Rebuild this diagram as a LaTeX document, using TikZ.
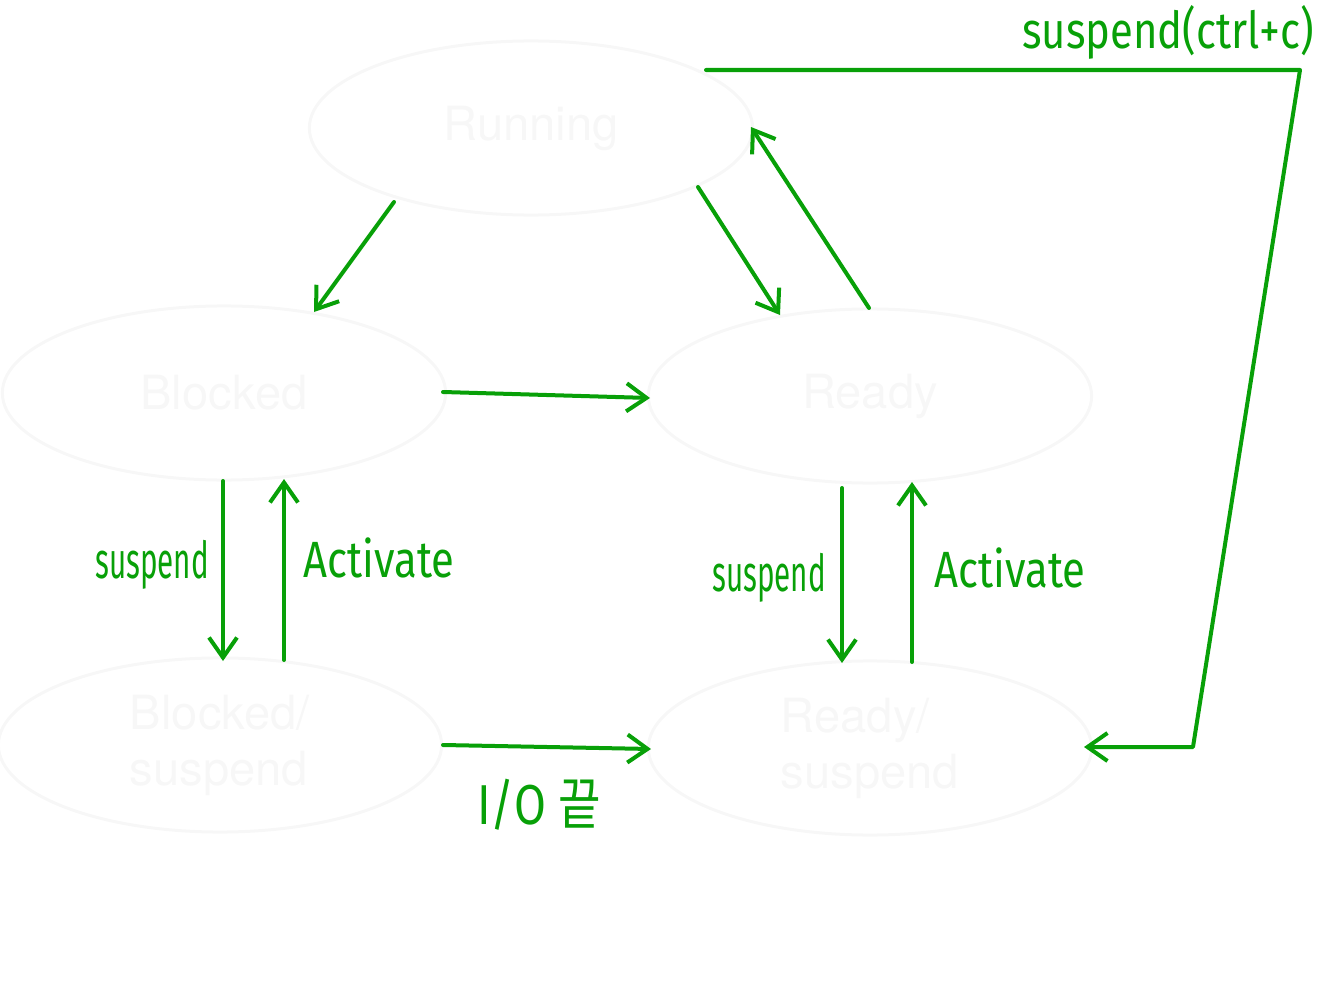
\documentclass[tikz,border=0pt]{standalone}
\usepackage{fontspec}
\usetikzlibrary{shapes.geometric,arrows.meta}
\newfontfamily\helv{TeX Gyre Heros}
\newfontfamily\hand{Fira Sans}
\newfontfamily\krfont{Noto Sans CJK KR}
\definecolor{pen}{RGB}{8,160,8}
\definecolor{faint}{RGB}{247,247,247}
\tikzset{
  state/.style={ellipse,draw=faint,line width=0.03cm,text=faint,inner sep=0pt,
    minimum width=4.43cm,minimum height=1.74cm,
    font=\helv\fontsize{13.4}{15.9}\selectfont,align=left},
  penline/.style={draw=pen,line width=0.04cm,line cap=round,line join=round},
  penarrow/.style={penline,-{Straight Barb[length=0.2cm,width=0.28cm,line width=0.04cm]}},
  note/.style={text=pen,font=\hand\fontsize{14.5}{16}\selectfont,inner sep=0pt},
  widenote/.style={note,xscale=0.82},
  narrownote/.style={note,xscale=0.58}
}
\begin{document}
\begin{tikzpicture}[x=0.01cm,y=-0.01cm]
\useasboundingbox (0,0) rectangle (1317,1000);
\node[state] (run) at (531,128) {Running};
\node[state] (blk) at (224,393) {Blocked};
\node[state] (rdy) at (870,396) {Ready};
\node[state] (bs)  at (220,745) {Blocked/\\suspend};
\node[state] (rs)  at (870,748) {Ready/\\suspend};

% endpoints
\coordinate (a1s) at (394,202); \coordinate (a1e) at (314,312);
\coordinate (a2s) at (698,187); \coordinate (a2e) at (780,315);
\coordinate (a3s) at (869,308); \coordinate (a3e) at (751,127);
\coordinate (a4s) at (443,392); \coordinate (a4e) at (650,398);
\coordinate (a5s) at (223,481); \coordinate (a5e) at (223,661);
\coordinate (a6s) at (284,660); \coordinate (a6e) at (284,479);
\coordinate (a7s) at (842,488); \coordinate (a7e) at (842,663);
\coordinate (a8s) at (912,662); \coordinate (a8e) at (912,482);
\coordinate (a9s) at (443,745); \coordinate (a9e) at (651,749);
\coordinate (r0) at (706,70); \coordinate (r1) at (1300,70);
\coordinate (r2) at (1193,747); \coordinate (r3) at (1084,747);

\draw[penarrow] (a1s) -- (a1e);
\draw[penarrow] (a2s) -- (a2e);
\draw[penarrow] (a3s) -- (a3e);
\draw[penarrow] (a4s) -- (a4e);
\draw[penarrow] (a5s) -- (a5e);
\draw[penarrow] (a6s) -- (a6e);
\draw[penarrow] (a7s) -- (a7e);
\draw[penarrow] (a8s) -- (a8e);
\draw[penarrow] (a9s) -- (a9e);
\draw[penarrow] (r0) -- (r1) -- (r2) -- (r3);

\node[narrownote] (l1) at (152,565) {suspend};
\node[widenote] (l2) at (379,558) {Activate};
\node[narrownote] (l3) at (769,578) {suspend};
\node[widenote] (l4) at (1010,568) {Activate};
\node[widenote,font=\hand\fontsize{16}{18}\selectfont] (l5) at (539,805) {I/O \krfont 끝};
\node[widenote] (l6) at (1168,32) {suspend(ctrl+c)};
\end{tikzpicture}
\end{document}
